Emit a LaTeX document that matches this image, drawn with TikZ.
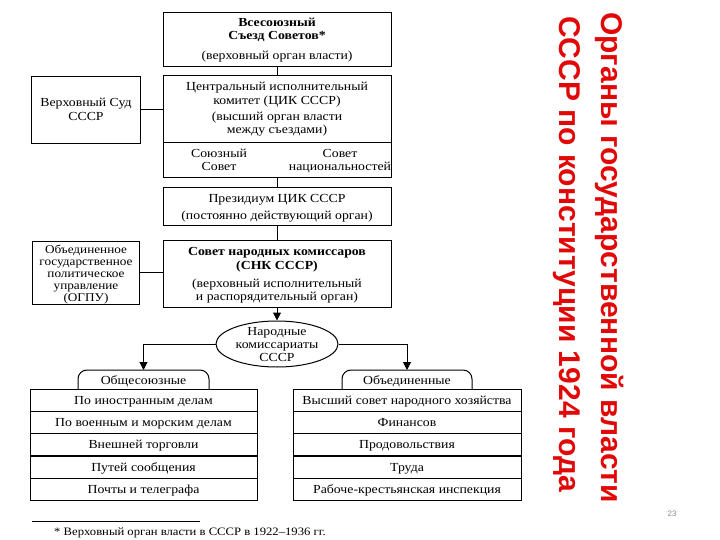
\documentclass[tikz,border=0pt]{standalone}
\usepackage{fontspec}
\setmainfont{Liberation Serif}[FakeStretch=1.12]
\newfontfamily\titlefont{Liberation Sans}
\usetikzlibrary{shapes.geometric,arrows.meta}
\definecolor{titlered}{RGB}{225,8,8}
\definecolor{pagegray}{RGB}{140,140,140}
\begin{document}
\begin{tikzpicture}[x=1pt,y=-1pt,
  box/.style={draw, line width=1pt, inner sep=0pt},
  txt/.style={inner sep=0pt, text height=8pt, text depth=0pt, font=\fontsize{12.3}{13}\selectfont},
  btxt/.style={txt, font=\fontsize{12.3}{13}\selectfont\bfseries},
  stxt/.style={txt, font=\fontsize{11.8}{13}\selectfont},
  conn/.style={line width=1pt},
  arr/.style={conn, -{Triangle[length=8pt,width=8pt]}},
  cell/.style={draw, line width=1pt, minimum width=227, minimum height=22, inner sep=0pt, text height=8pt, text depth=0pt, font=\fontsize{12.3}{13}\selectfont},
  tab/.style={line width=1pt, rounded corners=9pt},
  title/.style={inner sep=0pt, rotate=-90, anchor=base west, text=titlered, font=\titlefont\bfseries\fontsize{30}{32}\selectfont},
]
\useasboundingbox (0,0) rectangle (720,540);

% boxes
\node[box, minimum width=228, minimum height=54] (vss) at (277,39.5) {};
\node[box, minimum width=228, minimum height=102] (cik) at (277,127) {};
\coordinate (cikdl) at (163,143);
\coordinate (cikdr) at (391,143);
\draw[conn] (cikdl) -- (cikdr);
\node[box, minimum width=109, minimum height=67] (sud) at (85.5,110) {};
\node[box, minimum width=228, minimum height=38] (prez) at (277,207) {};
\node[box, minimum width=228, minimum height=67] (snk) at (277,273.5) {};
\node[box, minimum width=107, minimum height=63] (ogpu) at (85.5,272.5) {};
\node[draw, ellipse, line width=1pt, minimum width=122, minimum height=46, inner sep=0pt] (nk) at (277,344) {};

% texts
\node[btxt] (vss1) at (277,23) {Всесоюзный};
\node[btxt] (vss2) at (277,36) {Съезд Советов*};
\node[txt] (vss3) at (277,56) {(верховный орган власти)};
\node[txt] (cik1) at (277,87) {Центральный исполнительный};
\node[txt] (cik2) at (277,100.5) {комитет (ЦИК СССР)};
\node[txt] (cik3) at (277,117) {(высший орган власти};
\node[txt] (cik4) at (277,130) {между съездами)};
\node[txt] (sov1) at (219,154) {Союзный};
\node[txt] (sov2) at (219,167) {Совет};
\node[txt] (nat1) at (340,154) {Совет};
\node[txt] (nat2) at (340,167) {национальностей};
\node[txt] (sud1) at (86,103) {Верховный Суд};
\node[txt] (sud2) at (86,117) {СССР};
\node[txt] (prez1) at (277,199) {Президиум ЦИК СССР};
\node[txt] (prez2) at (277,215) {(постоянно действующий орган)};
\node[btxt] (snk1) at (277,251) {Совет народных комиссаров};
\node[btxt] (snk2) at (277,265) {(СНК СССР)};
\node[txt] (snk3) at (277,283) {(верховный исполнительный};
\node[txt] (snk4) at (277,296) {и распорядительный орган)};
\node[stxt] (og1) at (86,249) {Объединенное};
\node[stxt] (og2) at (86,261) {государственное};
\node[stxt] (og3) at (86,273) {политическое};
\node[stxt] (og4) at (86,285.5) {управление};
\node[stxt] (og5) at (86,297.5) {(ОГПУ)};
\node[txt] (nk1) at (277,331.5) {Народные};
\node[txt] (nk2) at (277,344.5) {комиссариаты};
\node[txt] (nk3) at (277,357.5) {СССР};

% connectors
\draw[conn] (vss) -- (cik);
\draw[conn] (sud) -- (sud -| cik.west);
\draw[conn] (cik) -- (prez);
\draw[conn] (prez) -- (snk);
\draw[conn] (ogpu) -- (ogpu -| snk.west);
\draw[arr] (snk) -- (nk);

% tabs
\coordinate (tabLtop) at (143.5,370);
\coordinate (tabRtop) at (407,370);
\draw[tab] (78,389) -- (78,370) -- (209,370) -- (209,389);
\draw[tab] (342,389) -- (342,370) -- (472,370) -- (472,389);
\node[txt] (tabL) at (143.5,380) {Общесоюзные};
\node[txt] (tabR) at (407,380) {Объединенные};
\draw[arr] (nk.west) -| (tabLtop);
\draw[arr] (nk.east) -| (tabRtop);

% left table
\node[cell] (l1) at (143.5,400) {По иностранным делам};
\node[cell] (l2) at (143.5,422) {По военным и морским делам};
\node[cell] (l3) at (143.5,444) {Внешней торговли};
\node[cell] (l4) at (143.5,467) {Путей сообщения};
\node[cell] (l5) at (143.5,489) {Почты и телеграфа};
% right table
\node[cell, minimum width=228] (r1) at (407,400) {Высший совет народного хозяйства};
\node[cell, minimum width=228] (r2) at (407,422) {Финансов};
\node[cell, minimum width=228] (r3) at (407,444) {Продовольствия};
\node[cell, minimum width=228] (r4) at (407,467) {Труда};
\node[cell, minimum width=228] (r5) at (407,489) {Рабоче-крестьянская инспекция};

% footnote
\coordinate (fnl) at (32,521);
\coordinate (fnr) at (200,521);
\draw[line width=0.8pt] (fnl) -- (fnr);
\node[inner sep=0pt, anchor=west, font=\fontsize{11.3}{12}\selectfont] (fn) at (54,533) {* Верховный орган власти в СССР в 1922–1936 гг.};

% title
\node[title] (t1) at (601,12) {Органы государственной власти};
\node[title] (t2) at (559,16) {СССР по конституции 1924 года};
\node[inner sep=0pt, text=pagegray, font=\titlefont\fontsize{8}{9}\selectfont] (pg) at (672,514) {23};
\end{tikzpicture}
\end{document}
